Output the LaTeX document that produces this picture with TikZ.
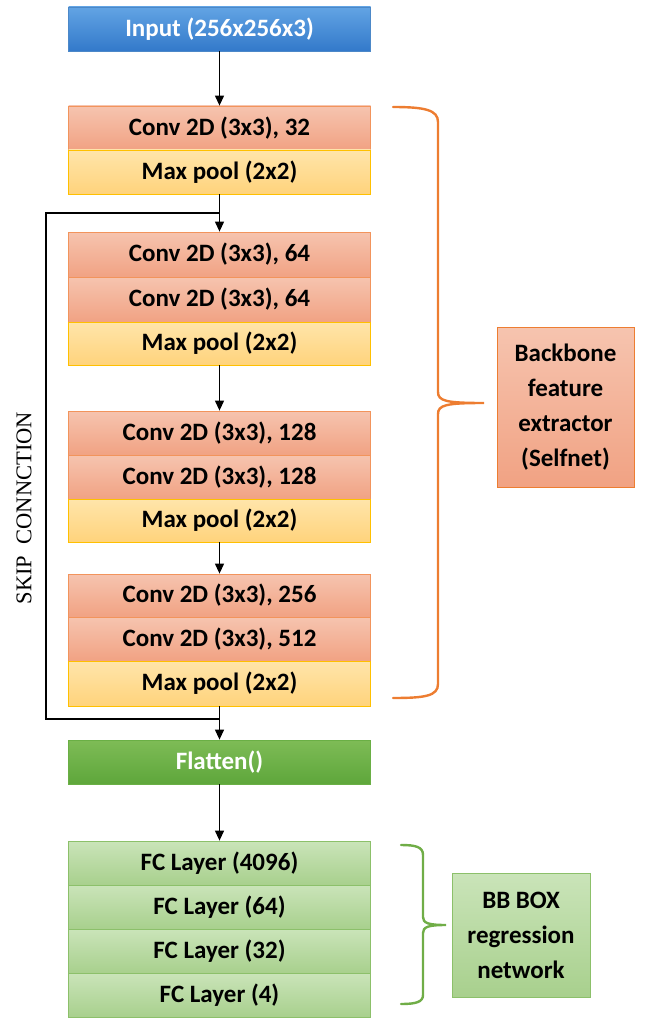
\documentclass[tikz,border=0pt]{standalone}
\usepackage{fontspec}
\setmainfont{Carlito}
\newfontfamily\skipfont{Liberation Serif}
\usetikzlibrary{arrows.meta}
\definecolor{intop}{HTML}{62A4E4}
\definecolor{inbot}{HTML}{3379CA}
\definecolor{inbrd}{HTML}{4C88C8}
\definecolor{convtop}{HTML}{F6C4AF}
\definecolor{convbot}{HTML}{F1A283}
\definecolor{convbrd}{HTML}{F2945C}
\definecolor{pooltop}{HTML}{FFE5AA}
\definecolor{poolbot}{HTML}{FFD37C}
\definecolor{poolbrd}{HTML}{FFC000}
\definecolor{flattop}{HTML}{7EBC56}
\definecolor{flatbot}{HTML}{5EA63B}
\definecolor{flatbrd}{HTML}{6AAF45}
\definecolor{fctop}{HTML}{CAE4B9}
\definecolor{fcbot}{HTML}{A8D08D}
\definecolor{fcbrd}{HTML}{8CC06A}
\definecolor{bracebrown}{HTML}{ED7D31}
\definecolor{bracegreen}{HTML}{70AD47}
\begin{document}
\begin{tikzpicture}[x=1pt,y=-1pt,
  layer/.style={minimum width=302pt, minimum height=44pt, inner sep=0pt,
    font=\fontsize{25}{30}\selectfont\bfseries, line width=0.8pt},
  inbox/.style={layer, draw=inbrd, top color=intop, bottom color=inbot, text=white},
  convbox/.style={layer, draw=convbrd, top color=convtop, bottom color=convbot},
  poolbox/.style={layer, draw=poolbrd, top color=pooltop, bottom color=poolbot},
  flatbox/.style={layer, draw=flatbrd, top color=flattop, bottom color=flatbot, text=white},
  fcbox/.style={layer, draw=fcbrd, top color=fctop, bottom color=fcbot},
  sidebox/.style={inner sep=0pt, align=center, line width=0.8pt,
    font=\fontsize{25}{35}\selectfont\bfseries},
  arr/.style={-{Triangle[length=10pt,width=9pt]}, line width=1.2pt, black},
  skipline/.style={line width=2pt, black},
  bracestyle/.style={line width=2.4pt, line cap=round}
]
\useasboundingbox (0,0) rectangle (645,1019);

% input
\node[inbox] (in) at (219.5,29) {Input (256x256x3)};
% block 1
\node[convbox] (c1a) at (219.5,128) {Conv 2D (3x3), 32};
\node[poolbox] (mp1) at (219.5,172) {Max pool (2x2)};
% block 2
\node[convbox, minimum height=45pt] (c2a) at (219.5,254.5) {Conv 2D (3x3), 64};
\node[convbox, minimum height=45pt] (c2b) at (219.5,299.5) {Conv 2D (3x3), 64};
\node[poolbox, minimum height=43pt] (mp2) at (219.5,343.5) {Max pool (2x2)};
% block 3
\node[convbox] (c3a) at (219.5,433) {Conv 2D (3x3), 128};
\node[convbox] (c3b) at (219.5,477) {Conv 2D (3x3), 128};
\node[poolbox, minimum height=43pt] (mp3) at (219.5,520.5) {Max pool (2x2)};
% block 4
\node[convbox, minimum height=43pt] (c4a) at (219.5,595.5) {Conv 2D (3x3), 256};
\node[convbox] (c4b) at (219.5,639) {Conv 2D (3x3), 512};
\node[poolbox, minimum height=45pt] (mp4) at (219.5,683.5) {Max pool (2x2)};
% flatten
\node[flatbox] (flat) at (219.5,762) {Flatten()};
% FC
\node[fcbox] (fc1) at (219.5,863) {FC Layer (4096)};
\node[fcbox] (fc2) at (219.5,907) {FC Layer (64)};
\node[fcbox] (fc3) at (219.5,951) {FC Layer (32)};
\node[fcbox] (fc4) at (219.5,995) {FC Layer (4)};

% arrows
\draw[arr] (in.south) -- (c1a.north);
\draw[arr] (mp1.south) -- (c2a.north);
\draw[arr] (mp2.south) -- (c3a.north);
\draw[arr] (mp3.south) -- (c4a.north);
\draw[arr] (mp4.south) -- (flat.north);
\draw[arr] (flat.south) -- (fc1.north);

% skip connection
\coordinate (sk1) at (219.5,213);
\coordinate (skc1) at (46,213);
\coordinate (skc2) at (46,719);
\coordinate (sk2) at (219.5,719);
\draw[skipline] (sk1) -- (skc1) -- (skc2) -- (sk2);
\node[rotate=90, font=\skipfont\fontsize{22.5}{26}\selectfont, inner sep=0pt] (skiptxt) at (24,508) {SKIP\hspace{0.5em}CONNCTION};

% orange brace
\draw[bracestyle, draw=bracebrown]
  (393,107) .. controls (425,107) and (438,110) .. (438,122)
  -- (438,392) .. controls (438,401) and (446,403) .. (484,403)
  .. controls (446,403) and (438,405) .. (438,414)
  -- (438,684) .. controls (438,696) and (425,698) .. (393,698);
\node[sidebox, draw=bracebrown, top color=convtop, bottom color=convbot,
  minimum width=137pt, minimum height=160pt] (bb) at (565.5,407)
  {Backbone\\feature\\extractor\\(Selfnet)};

% green brace
\draw[bracestyle, draw=bracegreen]
  (401,845) .. controls (416,845) and (423,847) .. (423,855)
  -- (423,917) .. controls (423,923) and (428,925) .. (446,925)
  .. controls (428,925) and (423,927) .. (423,933)
  -- (423,995) .. controls (423,1002) and (416,1004) .. (401,1004);
\node[sidebox, draw=fcbrd, top color=fctop, bottom color=fcbot,
  minimum width=138pt, minimum height=124pt] (reg) at (521,935)
  {BB BOX\\regression\\network};
\end{tikzpicture}
\end{document}
